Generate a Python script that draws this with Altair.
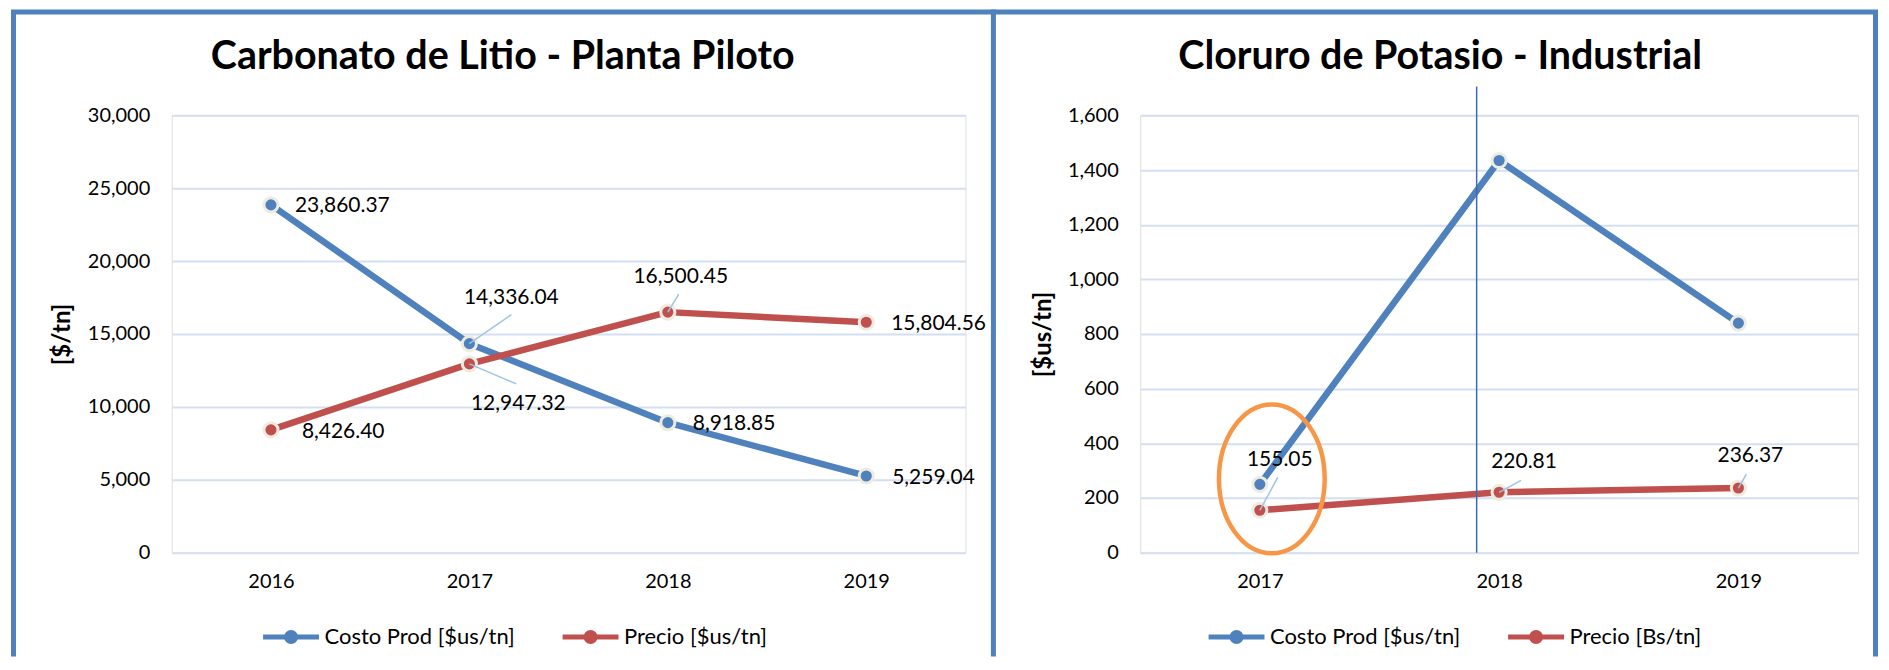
import altair as alt
import pandas as pd

# ---------------- data ----------------
years_left = ["2016", "2017", "2018", "2019"]
costo_left = [23860.37, 14336.04, 8918.85, 5259.04]
precio_left = [8426.40, 12947.32, 16500.45, 15804.56]
series_left = ["Costo Prod [$us/tn]", "Precio [$us/tn]"]
ticks_left = [0, 5000, 10000, 15000, 20000, 25000, 30000]

years_right = ["2017", "2018", "2019"]
costo_right = [250, 1435, 840]
precio_right = [155.05, 220.81, 236.37]
series_right = ["Costo Prod [$us/tn]", "Precio [Bs/tn]"]
ticks_right = [0, 200, 400, 600, 800, 1000, 1200, 1400, 1600]

title_left = "Carbonato de Litio - Planta Piloto"
title_right = "Cloruro de Potasio - Industrial"
ytitle_left = "[$/tn]"
ytitle_right = "[$us/tn]"

# annotations (right panel)
marker_year = "2018"          # thin vertical line
circle_year = "2017"          # orange ellipse
circle_value = 270

# which points carry a value label: (series index, year index)
labels_left = [(0, 0), (0, 1), (0, 2), (0, 3), (1, 0), (1, 1), (1, 2), (1, 3)]
labels_right = [(1, 0), (1, 1), (1, 2)]

# ---------------- styling ----------------
FONT = "Lato"
BLUE = "#4F81BD"
RED = "#C0504D"
GRID = "#D3E0F1"
BORDER = "#4F81BD"
LEADER = "#9DC3E6"
ORANGE = "#F79646"

W_L, W_R, H = 795, 719, 438

# label offsets: dx, dy, align, leader end offset
style_left = {
    (0, 0): (24, 1, "left", None),
    (0, 1): (42, -46, "center", (42, -29)),
    (0, 2): (25, 1, "left", None),
    (0, 3): (26, 2, "left", None),
    (1, 0): (31, 2, "left", None),
    (1, 1): (49, 40, "center", (47, 20)),
    (1, 2): (13, -35, "center", (11, -18)),
    (1, 3): (25, 2, "left", None),
}
style_right = {
    (1, 0): (20, -50, "center", (18, -33)),
    (1, 1): (25, -30, "center", (22, -12)),
    (1, 2): (12, -32, "center", (8, -14)),
}

LEG_PATH = ("M -1 0 L 1 0 M -0.16 0 A 0.16 0.16 0 1 0 0.16 0 "
            "A 0.16 0.16 0 1 0 -0.16 0 Z")
ELLIPSE = ("M -0.711 0 A 0.711 1 0 1 0 0.711 0 "
           "A 0.711 1 0 1 0 -0.711 0 Z")

one = pd.DataFrame({"k": [0]})


def border(x, x2, y, y2, width=5, color=BORDER):
    return alt.Chart(one).mark_rule(color=color, strokeWidth=width).encode(
        x=alt.value(x), x2=alt.value(x2), y=alt.value(y), y2=alt.value(y2)
    )


def title_mark(text, x, y):
    return alt.Chart(one).mark_text(
        text=text, font=FONT, fontSize=39.5, fontWeight="bold", color="black",
        align="center", baseline="alphabetic"
    ).encode(x=alt.value(x), y=alt.value(y))


def panel(years, series, values, ticks, width, title, title_x, ytitle,
          ytitle_x, legend_x, label_pts, styles, extra):
    rows = []
    for si, s in enumerate(series):
        for yi, yr in enumerate(years):
            rows.append({"year": yr, "series": s, "value": values[si][yi],
                         "si": si, "yi": yi})
    df = pd.DataFrame(rows)

    xenc = alt.X("year:O", scale=alt.Scale(type="point", padding=0.5, domain=years),
                 axis=alt.Axis(title=None, labelAngle=0, labelFontSize=20,
                               labelPadding=19, ticks=False, domain=False,
                               grid=False, labelColor="black", labelFont=FONT))
    yenc = alt.Y("value:Q", scale=alt.Scale(domain=[ticks[0], ticks[-1]], nice=False),
                 axis=alt.Axis(values=ticks, format=",.0f", title=ytitle,
                               titleFontSize=24, titleFontWeight="bold",
                               titleFont=FONT, titleColor="black",
                               titleX=ytitle_x, titleY=H / 2, titleAngle=270,
                               titleAlign="center", titleBaseline="middle",
                               labelFontSize=20, labelFont=FONT, labelColor="black",
                               labelPadding=22, grid=True, gridColor=GRID,
                               gridWidth=2, domain=False, ticks=False))

    base = alt.Chart(df).encode(x=xenc, y=yenc)
    lines = base.mark_line(strokeWidth=6.5, strokeJoin="round").encode(
        color=alt.Color("series:N", scale=alt.Scale(domain=series, range=[BLUE, RED]),
                        legend=alt.Legend(title=None, orient="none", legendX=legend_x,
                                          legendY=492, direction="horizontal",
                                          symbolType=LEG_PATH, symbolSize=3136,
                                          symbolStrokeWidth=5, labelFontSize=22,
                                          labelFont=FONT, labelColor="black",
                                          labelLimit=0, columnPadding=37,
                                          labelOffset=3, padding=0))
    )
    pts = base.mark_point(filled=True, size=200, stroke="#EEECE1", strokeWidth=3,
                          opacity=1).encode(
        fill=alt.Fill("series:N", scale=alt.Scale(domain=series, range=[BLUE, RED]),
                      legend=None)
    )
    layers = [lines, pts]
    for (si, yi) in label_pts:
        dx, dy, align, lead = styles[(si, yi)]
        sub = df[(df.si == si) & (df.yi == yi)]
        if lead is not None:
            layers.append(alt.Chart(sub).mark_rule(
                color=LEADER, strokeWidth=1.5, x2Offset=lead[0], y2Offset=lead[1]
            ).encode(x=xenc, x2="year:O", y=yenc, y2="value:Q"))
        layers.append(alt.Chart(sub).mark_text(
            dx=dx, dy=dy, align=align, baseline="middle", fontSize=21,
            font=FONT, color="black"
        ).encode(x=xenc, y=yenc, text=alt.Text("value:Q", format=",.2f")))
    layers += extra(xenc, yenc)
    layers.append(title_mark(title, title_x, -46))
    return alt.layer(*layers).properties(width=width, height=H).resolve_scale(
        color="independent", fill="independent")


def extra_left(xenc, yenc):
    return [
        border(-161, 825.5, -103.5, -103.5),       # top
        border(-158.5, -158.5, -103.5, 542),       # left
        border(823, 823, -103.5, 542),             # divider
    ]


def extra_right(xenc, yenc):
    mk = pd.DataFrame({"year": [marker_year], "value": [0]})
    el = pd.DataFrame({"year": [circle_year], "value": [circle_value]})
    return [
        alt.Chart(mk).mark_rule(color="#3A6BB5", strokeWidth=1.5, xOffset=-22.5).encode(
            x=xenc, y=yenc, y2=alt.value(-29)),
        alt.Chart(el).mark_point(shape=ELLIPSE, size=22201, filled=False,
                                 stroke=ORANGE, strokeWidth=4.5, xOffset=12,
                                 opacity=1).encode(x=xenc, y=yenc),
        border(-149.5, 739, -103.5, -103.5),       # top
        border(736.5, 736.5, -103.5, 542),         # right
    ]


left = panel(years_left, series_left, [costo_left, precio_left], ticks_left, W_L,
             title_left, 331.5, ytitle_left, -109, 89, labels_left, style_left,
             extra_left)
right = panel(years_right, series_right, [costo_right, precio_right], ticks_right, W_R,
              title_right, 300.5, ytitle_right, -97, 66, labels_right, style_right,
              extra_right)

chart = alt.hconcat(left, right, spacing=175, bounds="flush").resolve_scale(
    color="independent", fill="independent", x="independent", y="independent"
).resolve_legend(color="independent").properties(padding=0).configure_view(
    stroke=None
).configure(font=FONT)

chart.save("out.html", embed_options={"renderer": "svg", "actions": False})
